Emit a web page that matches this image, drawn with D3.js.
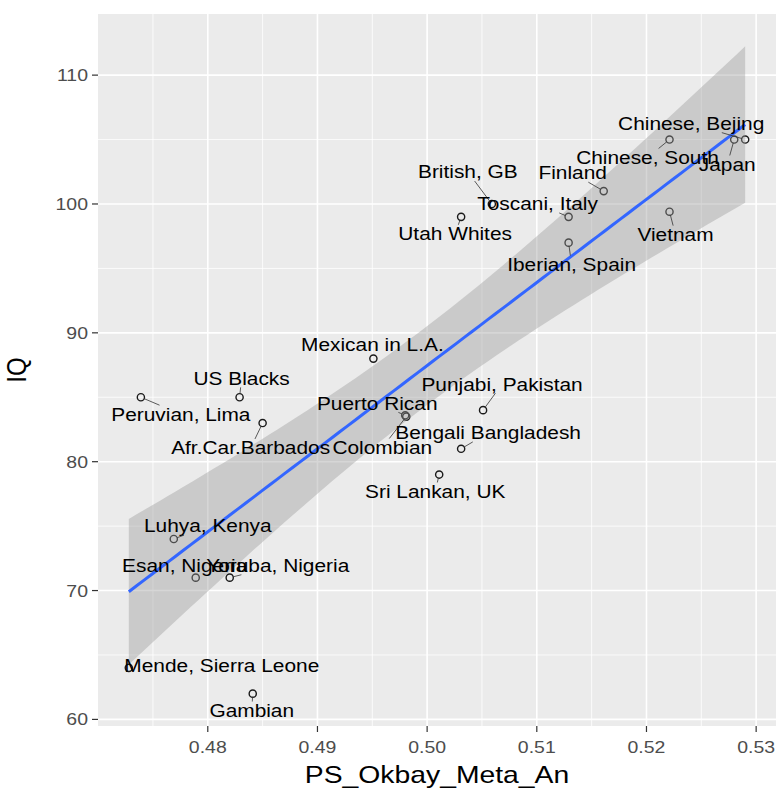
<!DOCTYPE html>
<html lang="en">
  <head>
    <meta charset="UTF-8" />
    <title>IQ vs PS_Okbay_Meta_An</title>
    <style>
      body {
        margin: 0;
        background: #fff;
        font-family: "Liberation Sans", Arial, sans-serif;
      }
      svg {
        display: block;
      }
      .tick-label {
        fill: #4d4d4d;
        font-size: 16.5px;
      }
      .axis-title {
        fill: #000;
        font-size: 24px;
      }
      .pop-label {
        fill: #000;
        font-size: 17.7px;
      }
    </style>
  </head>
  <body>
    <svg width="779" height="788"></svg>

    <script src="https://d3js.org/d3.v7.min.js"></script>
    <script>
      // data
      const populations = [
        "Chinese, Bejing", "Chinese, South", "Japan", "Finland",
        "Toscani, Italy", "Iberian, Spain", "Vietnam", "Utah Whites",
        "British, GB", "Mexican in L.A.", "US Blacks", "Peruvian, Lima",
        "Afr.Car.Barbados", "Puerto Rican", "Colombian", "Bengali Bangladesh",
        "Punjabi, Pakistan", "Sri Lankan, UK", "Luhya, Kenya", "Esan, Nigeria",
        "Yoruba, Nigeria", "Mende, Sierra Leone", "Gambian"
      ];
      const psScores = [
        0.529, 0.5221, 0.528, 0.5161,
        0.5129, 0.5129, 0.5221, 0.5031,
        0.5059, 0.4951, 0.4829, 0.4739,
        0.485, 0.498, 0.4981, 0.5031,
        0.5051, 0.5011, 0.4769, 0.4789,
        0.482, 0.4728, 0.4841
      ];
      const iqValues = [
        105, 105, 105, 101,
        99, 97, 99.4, 99,
        100, 88, 85, 85,
        83, 83.6, 83.5, 81,
        84, 79, 74, 71,
        71, 64, 62
      ];
      const xTicks = [0.48, 0.49, 0.5, 0.51, 0.52, 0.53];
      const yTicks = [60, 70, 80, 90, 100, 110];

      // where the repelled labels ended up, px from the point
      const labelOffsets = [
        [-54, -16], [-22, 18], [-7, 25], [-31, -18],
        [-31, -13], [3, 22], [6, 23], [-6, 17],
        [-24, -32], [-1, -14], [2, -19], [40, 17],
        [-12, 25], [-28, -12], [-24, 31], [27, -16],
        [19, -26], [-4, 17], [34, -13], [-11, -12],
        [48, -12], [93, -2], [-1, 17]
      ];

      const stretch = 1.18; // the source image is stretched sideways
      const margin = { left: 98, right: 3, top: 14, bottom: 62 };
      const width = 779, height = 788;
      const svg = d3.select("svg");

      // lm fit + 95% band, like geom_smooth(method = "lm")
      const n = psScores.length;
      const mx = d3.mean(psScores), my = d3.mean(iqValues);
      let sxx = 0, sxy = 0;
      psScores.forEach((x, i) => {
        sxx += (x - mx) ** 2;
        sxy += (x - mx) * (iqValues[i] - my);
      });
      const slope = sxy / sxx, icept = my - slope * mx;
      let ssr = 0;
      psScores.forEach((x, i) => (ssr += (iqValues[i] - icept - slope * x) ** 2));
      const sigma = Math.sqrt(ssr / (n - 2));
      const tCrit = 2.0796; // qt(0.975, 21)
      const [xmin, xmax] = d3.extent(psScores);
      const fit = d3.range(80).map((k) => {
        const x = xmin + ((xmax - xmin) * k) / 79;
        const y = icept + slope * x;
        const se = sigma * Math.sqrt(1 / n + (x - mx) ** 2 / sxx);
        return { x, y, lo: y - tCrit * se, hi: y + tCrit * se };
      });

      const expand = ([a, b]) => [a - (b - a) * 0.05, b + (b - a) * 0.05];
      const x = d3
        .scaleLinear()
        .domain(expand([xmin, xmax]))
        .range([margin.left, width - margin.right]);
      const yLo = Math.min(d3.min(iqValues), d3.min(fit, (d) => d.lo));
      const yHi = Math.max(d3.max(iqValues), d3.max(fit, (d) => d.hi));
      const y = d3
        .scaleLinear()
        .domain(expand([yLo, yHi]))
        .range([height - margin.bottom, margin.top]);

      const [px0, px1] = x.range();
      const [py0, py1] = y.range();

      // panel
      svg.append("rect")
        .attr("x", px0).attr("y", py1)
        .attr("width", px1 - px0).attr("height", py0 - py1)
        .attr("fill", "#ebebeb");

      const inX = (v) => v > x.domain()[0] && v < x.domain()[1];
      const inY = (v) => v > y.domain()[0] && v < y.domain()[1];
      const xMinor = xTicks.map((t) => t - 0.005).concat([xTicks[xTicks.length - 1] + 0.005]).filter(inX);
      const yMinor = yTicks.map((t) => t - 5).concat([yTicks[yTicks.length - 1] + 5]).filter(inY);

      const grid = svg.append("g").attr("stroke", "#fff");
      grid.selectAll(".xm").data(xMinor).join("line")
        .attr("x1", x).attr("x2", x).attr("y1", py1).attr("y2", py0)
        .attr("stroke-width", 0.8);
      grid.selectAll(".ym").data(yMinor).join("line")
        .attr("y1", y).attr("y2", y).attr("x1", px0).attr("x2", px1)
        .attr("stroke-width", 0.8);
      grid.selectAll(".xM").data(xTicks).join("line")
        .attr("x1", x).attr("x2", x).attr("y1", py1).attr("y2", py0)
        .attr("stroke-width", 1.6);
      grid.selectAll(".yM").data(yTicks).join("line")
        .attr("y1", y).attr("y2", y).attr("x1", px0).attr("x2", px1)
        .attr("stroke-width", 1.6);

      // points
      const pts = populations.map((name, i) => ({
        name, px: x(psScores[i]), py: y(iqValues[i]),
        dx: labelOffsets[i][0], dy: labelOffsets[i][1]
      }));
      svg.append("g").selectAll("circle").data(pts).join("circle")
        .attr("cx", (d) => d.px).attr("cy", (d) => d.py)
        .attr("r", 3.6)
        .attr("fill", "none").attr("stroke", "#1a1a1a").attr("stroke-width", 1.4);

      // smooth
      svg.append("path").datum(fit)
        .attr("fill", "#999999").attr("fill-opacity", 0.4)
        .attr("d", d3.area().x((d) => x(d.x)).y0((d) => y(d.lo)).y1((d) => y(d.hi)));
      svg.append("path").datum(fit)
        .attr("fill", "none").attr("stroke", "#3366ff").attr("stroke-width", 3)
        .attr("d", d3.line().x((d) => x(d.x)).y((d) => y(d.y)));

      // repelled labels + segments
      const fs = 17.7;
      const segs = svg.append("g").attr("stroke", "#333").attr("stroke-width", 0.8);
      const labels = svg.append("g").selectAll("text").data(pts).join("text")
        .attr("class", "pop-label")
        .attr("text-anchor", "middle")
        .attr("transform", (d) => `translate(${d.px + d.dx},${d.py + d.dy + fs * 0.36}) scale(${stretch},1)`)
        .text((d) => d.name);

      labels.each(function (d) {
        const hw = (this.getComputedTextLength() * stretch) / 2 + 2;
        const hh = fs * 0.4 + 2;
        const cx = d.px + d.dx, cy = d.py + d.dy;
        const vx = d.px - cx, vy = d.py - cy;
        if (Math.abs(vx) <= hw && Math.abs(vy) <= hh) return;
        const s = Math.min(vx ? hw / Math.abs(vx) : Infinity, vy ? hh / Math.abs(vy) : Infinity);
        const ex = cx + vx * s, ey = cy + vy * s;
        const len = Math.hypot(d.px - ex, d.py - ey);
        if (len < 7) return;
        const r = 3.6 / len;
        segs.append("line")
          .attr("x1", d.px + (ex - d.px) * r).attr("y1", d.py + (ey - d.py) * r)
          .attr("x2", ex).attr("y2", ey);
      });

      // axes
      const axes = svg.append("g").attr("stroke", "#333").attr("stroke-width", 1.2);
      axes.selectAll(".xt").data(xTicks).join("line")
        .attr("x1", x).attr("x2", x).attr("y1", py0).attr("y2", py0 + 6);
      axes.selectAll(".yt").data(yTicks).join("line")
        .attr("y1", y).attr("y2", y).attr("x1", px0 - 6).attr("x2", px0);

      svg.append("g").selectAll("text").data(xTicks).join("text")
        .attr("class", "tick-label")
        .attr("text-anchor", "middle")
        .attr("transform", (d) => `translate(${x(d)},${py0 + 27}) scale(${stretch},1)`)
        .text((d) => d3.format(".2f")(d));
      svg.append("g").selectAll("text").data(yTicks).join("text")
        .attr("class", "tick-label")
        .attr("text-anchor", "end")
        .attr("transform", (d) => `translate(${px0 - 10},${y(d) + 6}) scale(${stretch},1)`)
        .text((d) => d);

      svg.append("text")
        .attr("class", "axis-title")
        .attr("text-anchor", "middle")
        .attr("transform", `translate(${(px0 + px1) / 2},${height - 5}) scale(${stretch},1)`)
        .text("PS_Okbay_Meta_An");
      svg.append("text")
        .attr("class", "axis-title")
        .attr("text-anchor", "middle")
        .attr("transform", `translate(26,${(py0 + py1) / 2}) scale(${stretch},1) rotate(-90)`)
        .text("IQ");
    </script>
  </body>
</html>
